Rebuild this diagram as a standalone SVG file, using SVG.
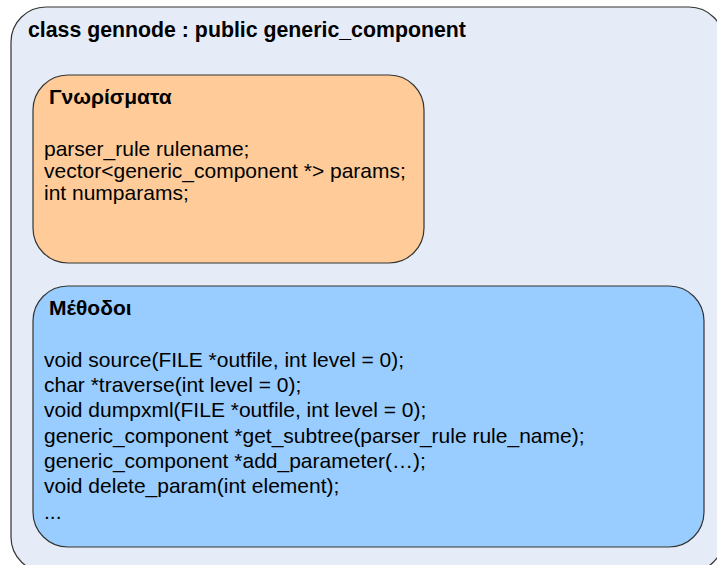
<svg xmlns="http://www.w3.org/2000/svg" width="717" height="565" viewBox="0 0 717 565">
<style>
.box{stroke:#333333;stroke-width:1.2}
.t{font-family:"Liberation Sans",Arial,sans-serif;font-size:21px;fill:#000}
.b{font-weight:bold}
</style>
<rect width="717" height="565" fill="#ffffff"/>
<g id="class-gennode">
<rect class="box" x="11" y="7" width="713" height="565" rx="35" ry="35" fill="#E6ECF7"/>
<text class="t b" x="28" y="37" style="font-size:21.3px">class gennode : public generic_component</text>
</g>
<g id="attributes">
<rect class="box" x="33" y="75" width="391" height="188" rx="35" ry="35" fill="#FFCC99"/>
<text class="t b" x="49" y="104">Γνωρίσματα</text>
<text class="t" x="44" y="156">parser_rule rulename;</text>
<text class="t" x="44" y="178">vector&lt;generic_component *&gt; params;</text>
<text class="t" x="44" y="200">int numparams;</text>
</g>
<g id="methods">
<rect class="box" x="33" y="286" width="671" height="261" rx="35" ry="35" fill="#99CCFF"/>
<text class="t b" x="49" y="315">Μέθοδοι</text>
<text class="t" x="44" y="367">void source(FILE *outfile, int level = 0);</text>
<text class="t" x="44" y="392">char *traverse(int level = 0);</text>
<text class="t" x="44" y="417">void dumpxml(FILE *outfile, int level = 0);</text>
<text class="t" x="44" y="443">generic_component *get_subtree(parser_rule rule_name);</text>
<text class="t" x="44" y="468">generic_component *add_parameter(…);</text>
<text class="t" x="44" y="493">void delete_param(int element);</text>
<text class="t" x="44" y="519">...</text>
</g>
<g id="connectors"></g>
</svg>
